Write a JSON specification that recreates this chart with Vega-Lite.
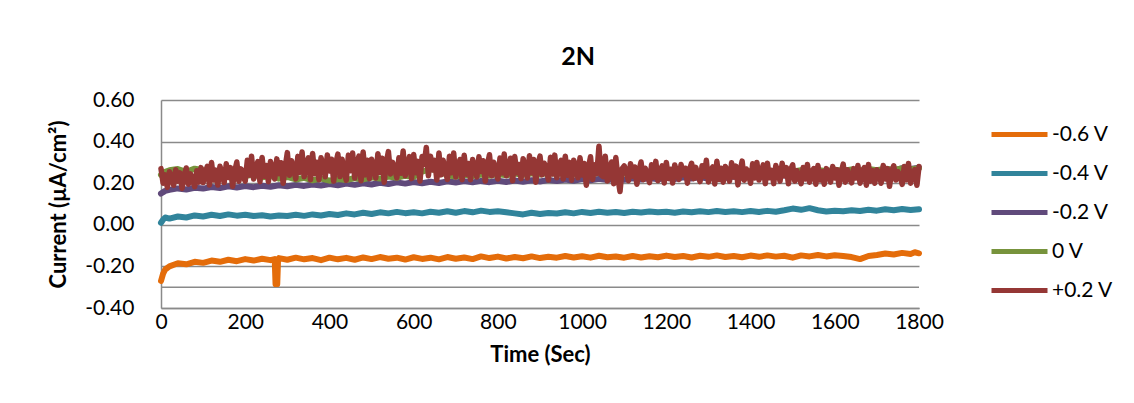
{
"$schema": "https://vega.github.io/schema/vega-lite/v6.json",
"width": 758, "height": 208,
"autosize": {"type": "none"},
"padding": {"left": 161, "top": 100, "right": 215, "bottom": 95},
"background": "white",
"title": {"text": "2N", "font": "Lato", "fontSize": 25, "fontWeight": "bold", "color": "#000", "dx": 38, "baseline": "alphabetic", "offset": -1},
"config": {
  "view": {"stroke": null},
  "axis": {"labelFont": "Lato", "labelFontSize": 21, "labelColor": "#000", "titleFont": "Lato", "titleFontSize": 22, "titleFontWeight": "bold", "titleColor": "#000", "domainColor": "#8a8a8a", "domainWidth": 1.5, "gridColor": "#8a8a8a", "gridWidth": 1.5, "ticks": false},
  "legend": {"orient": "none", "legendX": 848, "legendY": 24, "padding": 0, "title": null, "symbolType": "M-4,0H4", "symbolSize": 196, "symbolStrokeWidth": 5, "labelFont": "Lato", "labelFontSize": 21, "labelColor": "#000", "labelOffset": 22, "rowPadding": 17}
},
"datasets": {
"o": [{"t":0,"v":-0.27},{"t":5,"v":-0.235},{"t":10,"v":-0.215},{"t":20,"v":-0.2},{"t":40,"v":-0.185},{"t":60,"v":-0.19},{"t":80,"v":-0.178},{"t":100,"v":-0.183},{"t":120,"v":-0.172},{"t":140,"v":-0.178},{"t":160,"v":-0.168},{"t":180,"v":-0.175},{"t":200,"v":-0.165},{"t":220,"v":-0.172},{"t":240,"v":-0.163},{"t":260,"v":-0.17},{"t":270,"v":-0.165},{"t":272,"v":-0.285},{"t":276,"v":-0.285},{"t":278,"v":-0.165},{"t":280,"v":-0.16},{"t":300,"v":-0.168},{"t":320,"v":-0.158},{"t":340,"v":-0.166},{"t":360,"v":-0.16},{"t":380,"v":-0.17},{"t":400,"v":-0.158},{"t":420,"v":-0.166},{"t":440,"v":-0.159},{"t":460,"v":-0.168},{"t":480,"v":-0.157},{"t":500,"v":-0.165},{"t":520,"v":-0.155},{"t":540,"v":-0.163},{"t":560,"v":-0.158},{"t":580,"v":-0.167},{"t":600,"v":-0.156},{"t":620,"v":-0.164},{"t":640,"v":-0.158},{"t":660,"v":-0.166},{"t":680,"v":-0.155},{"t":700,"v":-0.163},{"t":720,"v":-0.157},{"t":740,"v":-0.165},{"t":760,"v":-0.152},{"t":780,"v":-0.16},{"t":800,"v":-0.153},{"t":820,"v":-0.162},{"t":840,"v":-0.155},{"t":860,"v":-0.161},{"t":880,"v":-0.152},{"t":900,"v":-0.16},{"t":920,"v":-0.154},{"t":940,"v":-0.158},{"t":960,"v":-0.15},{"t":980,"v":-0.157},{"t":1000,"v":-0.151},{"t":1020,"v":-0.158},{"t":1040,"v":-0.149},{"t":1060,"v":-0.156},{"t":1080,"v":-0.152},{"t":1100,"v":-0.158},{"t":1120,"v":-0.15},{"t":1140,"v":-0.157},{"t":1160,"v":-0.151},{"t":1180,"v":-0.156},{"t":1200,"v":-0.148},{"t":1220,"v":-0.155},{"t":1240,"v":-0.15},{"t":1260,"v":-0.157},{"t":1280,"v":-0.149},{"t":1300,"v":-0.154},{"t":1320,"v":-0.147},{"t":1340,"v":-0.155},{"t":1360,"v":-0.15},{"t":1380,"v":-0.156},{"t":1400,"v":-0.148},{"t":1420,"v":-0.154},{"t":1440,"v":-0.147},{"t":1460,"v":-0.153},{"t":1480,"v":-0.149},{"t":1500,"v":-0.158},{"t":1520,"v":-0.147},{"t":1540,"v":-0.152},{"t":1560,"v":-0.145},{"t":1580,"v":-0.152},{"t":1600,"v":-0.146},{"t":1620,"v":-0.15},{"t":1640,"v":-0.155},{"t":1660,"v":-0.165},{"t":1680,"v":-0.15},{"t":1700,"v":-0.145},{"t":1720,"v":-0.138},{"t":1740,"v":-0.143},{"t":1760,"v":-0.135},{"t":1780,"v":-0.14},{"t":1790,"v":-0.132},{"t":1800,"v":-0.137}],
"b": [{"t":0,"v":0.01},{"t":5,"v":0.025},{"t":10,"v":0.035},{"t":20,"v":0.03},{"t":40,"v":0.04},{"t":60,"v":0.035},{"t":80,"v":0.045},{"t":100,"v":0.04},{"t":120,"v":0.048},{"t":140,"v":0.042},{"t":160,"v":0.05},{"t":180,"v":0.044},{"t":200,"v":0.048},{"t":220,"v":0.042},{"t":240,"v":0.046},{"t":260,"v":0.04},{"t":280,"v":0.045},{"t":300,"v":0.042},{"t":320,"v":0.048},{"t":340,"v":0.043},{"t":360,"v":0.05},{"t":380,"v":0.045},{"t":400,"v":0.052},{"t":420,"v":0.047},{"t":440,"v":0.055},{"t":460,"v":0.05},{"t":480,"v":0.058},{"t":500,"v":0.052},{"t":520,"v":0.06},{"t":540,"v":0.055},{"t":560,"v":0.062},{"t":580,"v":0.056},{"t":600,"v":0.06},{"t":620,"v":0.055},{"t":640,"v":0.063},{"t":660,"v":0.058},{"t":680,"v":0.065},{"t":700,"v":0.058},{"t":720,"v":0.066},{"t":740,"v":0.06},{"t":760,"v":0.068},{"t":780,"v":0.062},{"t":800,"v":0.065},{"t":820,"v":0.06},{"t":840,"v":0.055},{"t":860,"v":0.05},{"t":880,"v":0.058},{"t":900,"v":0.052},{"t":920,"v":0.057},{"t":940,"v":0.054},{"t":960,"v":0.06},{"t":980,"v":0.055},{"t":1000,"v":0.062},{"t":1020,"v":0.057},{"t":1040,"v":0.063},{"t":1060,"v":0.058},{"t":1080,"v":0.062},{"t":1100,"v":0.057},{"t":1120,"v":0.063},{"t":1140,"v":0.059},{"t":1160,"v":0.064},{"t":1180,"v":0.06},{"t":1200,"v":0.063},{"t":1220,"v":0.058},{"t":1240,"v":0.064},{"t":1260,"v":0.06},{"t":1280,"v":0.065},{"t":1300,"v":0.061},{"t":1320,"v":0.066},{"t":1340,"v":0.062},{"t":1360,"v":0.065},{"t":1380,"v":0.061},{"t":1400,"v":0.066},{"t":1420,"v":0.062},{"t":1440,"v":0.067},{"t":1460,"v":0.063},{"t":1480,"v":0.07},{"t":1500,"v":0.078},{"t":1520,"v":0.072},{"t":1540,"v":0.08},{"t":1560,"v":0.07},{"t":1580,"v":0.064},{"t":1600,"v":0.068},{"t":1620,"v":0.065},{"t":1640,"v":0.07},{"t":1660,"v":0.066},{"t":1680,"v":0.072},{"t":1700,"v":0.068},{"t":1720,"v":0.075},{"t":1740,"v":0.07},{"t":1760,"v":0.076},{"t":1780,"v":0.071},{"t":1800,"v":0.075}],
"p": [{"t":0,"v":0.15},{"t":10,"v":0.163},{"t":20,"v":0.168},{"t":40,"v":0.175},{"t":60,"v":0.17},{"t":80,"v":0.178},{"t":100,"v":0.174},{"t":120,"v":0.182},{"t":140,"v":0.177},{"t":160,"v":0.185},{"t":180,"v":0.179},{"t":200,"v":0.186},{"t":220,"v":0.181},{"t":240,"v":0.188},{"t":260,"v":0.183},{"t":280,"v":0.19},{"t":300,"v":0.185},{"t":320,"v":0.192},{"t":340,"v":0.187},{"t":360,"v":0.194},{"t":380,"v":0.189},{"t":400,"v":0.196},{"t":420,"v":0.19},{"t":440,"v":0.198},{"t":460,"v":0.192},{"t":480,"v":0.2},{"t":500,"v":0.194},{"t":520,"v":0.202},{"t":540,"v":0.196},{"t":560,"v":0.204},{"t":580,"v":0.198},{"t":600,"v":0.206},{"t":620,"v":0.2},{"t":640,"v":0.207},{"t":660,"v":0.201},{"t":680,"v":0.209},{"t":700,"v":0.203},{"t":720,"v":0.21},{"t":740,"v":0.204},{"t":760,"v":0.211},{"t":780,"v":0.205},{"t":800,"v":0.212},{"t":820,"v":0.206},{"t":840,"v":0.213},{"t":860,"v":0.207},{"t":880,"v":0.214},{"t":900,"v":0.208},{"t":920,"v":0.216},{"t":940,"v":0.21},{"t":960,"v":0.218},{"t":980,"v":0.212},{"t":1000,"v":0.22},{"t":1020,"v":0.214},{"t":1040,"v":0.221},{"t":1060,"v":0.215},{"t":1080,"v":0.222},{"t":1100,"v":0.216},{"t":1120,"v":0.224},{"t":1140,"v":0.218},{"t":1160,"v":0.225},{"t":1180,"v":0.219},{"t":1200,"v":0.226},{"t":1220,"v":0.22},{"t":1240,"v":0.228},{"t":1260,"v":0.222},{"t":1280,"v":0.229},{"t":1300,"v":0.223},{"t":1320,"v":0.23},{"t":1340,"v":0.225},{"t":1360,"v":0.232},{"t":1380,"v":0.226},{"t":1400,"v":0.233},{"t":1420,"v":0.228},{"t":1440,"v":0.236},{"t":1460,"v":0.23},{"t":1480,"v":0.238},{"t":1500,"v":0.232},{"t":1520,"v":0.24},{"t":1540,"v":0.234},{"t":1560,"v":0.242},{"t":1580,"v":0.238},{"t":1600,"v":0.246},{"t":1620,"v":0.242},{"t":1640,"v":0.252},{"t":1660,"v":0.258},{"t":1680,"v":0.265},{"t":1700,"v":0.26},{"t":1720,"v":0.268},{"t":1740,"v":0.262},{"t":1760,"v":0.272},{"t":1780,"v":0.268},{"t":1800,"v":0.275}],
"g": [{"t":0,"v":0.24},{"t":10,"v":0.255},{"t":20,"v":0.262},{"t":40,"v":0.268},{"t":60,"v":0.255},{"t":80,"v":0.27},{"t":100,"v":0.262},{"t":120,"v":0.25},{"t":140,"v":0.258},{"t":160,"v":0.24},{"t":180,"v":0.248},{"t":200,"v":0.235},{"t":220,"v":0.242},{"t":240,"v":0.228},{"t":260,"v":0.235},{"t":280,"v":0.222},{"t":300,"v":0.23},{"t":320,"v":0.218},{"t":340,"v":0.226},{"t":360,"v":0.214},{"t":380,"v":0.222},{"t":400,"v":0.212},{"t":420,"v":0.22},{"t":440,"v":0.215},{"t":460,"v":0.225},{"t":480,"v":0.218},{"t":500,"v":0.228},{"t":520,"v":0.222},{"t":540,"v":0.232},{"t":560,"v":0.226},{"t":580,"v":0.236},{"t":600,"v":0.23},{"t":620,"v":0.255},{"t":640,"v":0.268},{"t":660,"v":0.26},{"t":680,"v":0.238},{"t":700,"v":0.232},{"t":720,"v":0.24},{"t":740,"v":0.234},{"t":760,"v":0.242},{"t":780,"v":0.236},{"t":800,"v":0.244},{"t":820,"v":0.238},{"t":840,"v":0.246},{"t":860,"v":0.24},{"t":880,"v":0.248},{"t":900,"v":0.242},{"t":920,"v":0.25},{"t":940,"v":0.244},{"t":960,"v":0.25},{"t":980,"v":0.243},{"t":1000,"v":0.248},{"t":1020,"v":0.242},{"t":1040,"v":0.25},{"t":1060,"v":0.244},{"t":1080,"v":0.252},{"t":1100,"v":0.246},{"t":1120,"v":0.253},{"t":1140,"v":0.247},{"t":1160,"v":0.254},{"t":1180,"v":0.248},{"t":1200,"v":0.255},{"t":1220,"v":0.249},{"t":1240,"v":0.256},{"t":1260,"v":0.25},{"t":1280,"v":0.257},{"t":1300,"v":0.251},{"t":1320,"v":0.258},{"t":1340,"v":0.252},{"t":1360,"v":0.258},{"t":1380,"v":0.253},{"t":1400,"v":0.259},{"t":1420,"v":0.254},{"t":1440,"v":0.26},{"t":1460,"v":0.255},{"t":1480,"v":0.262},{"t":1500,"v":0.256},{"t":1520,"v":0.263},{"t":1540,"v":0.257},{"t":1560,"v":0.264},{"t":1580,"v":0.258},{"t":1600,"v":0.265},{"t":1620,"v":0.26},{"t":1640,"v":0.266},{"t":1660,"v":0.261},{"t":1680,"v":0.268},{"t":1700,"v":0.262},{"t":1720,"v":0.27},{"t":1740,"v":0.264},{"t":1760,"v":0.271},{"t":1780,"v":0.266},{"t":1800,"v":0.272}],
"r": [{"t":0,"v":0.27},{"t":5,"v":0.2},{"t":10,"v":0.24},{"t":15,"v":0.18},{"t":20,"v":0.255},{"t":25,"v":0.23},{"t":30,"v":0.19},{"t":35,"v":0.265},{"t":40,"v":0.21},{"t":45,"v":0.25},{"t":50,"v":0.175},{"t":55,"v":0.235},{"t":60,"v":0.273},{"t":65,"v":0.195},{"t":70,"v":0.245},{"t":75,"v":0.215},{"t":80,"v":0.183},{"t":85,"v":0.26},{"t":90,"v":0.205},{"t":95,"v":0.275},
{"t":100,"v":0.203},{"t":105,"v":0.251},{"t":110,"v":0.281},{"t":115,"v":0.191},{"t":120,"v":0.299},{"t":125,"v":0.215},{"t":130,"v":0.263},{"t":135,"v":0.191},{"t":140,"v":0.281},{"t":145,"v":0.251},{"t":150,"v":0.203},{"t":155,"v":0.293},{"t":160,"v":0.227},{"t":165,"v":0.275},{"t":170,"v":0.185},{"t":175,"v":0.257},{"t":180,"v":0.302},{"t":185,"v":0.209},{"t":190,"v":0.269},{"t":195,"v":0.233},
{"t":200,"v":0.21},{"t":205,"v":0.31},{"t":210,"v":0.239},{"t":215,"v":0.33},{"t":220,"v":0.22},{"t":225,"v":0.272},{"t":230,"v":0.304},{"t":235,"v":0.207},{"t":240,"v":0.324},{"t":245,"v":0.233},{"t":250,"v":0.285},{"t":255,"v":0.207},{"t":260,"v":0.304},{"t":265,"v":0.272},{"t":270,"v":0.22},{"t":275,"v":0.317},{"t":280,"v":0.246},{"t":285,"v":0.298},{"t":290,"v":0.2},{"t":295,"v":0.278},
{"t":300,"v":0.347},{"t":305,"v":0.238},{"t":310,"v":0.308},{"t":315,"v":0.266},{"t":320,"v":0.221},{"t":325,"v":0.329},{"t":330,"v":0.252},{"t":335,"v":0.35},{"t":340,"v":0.231},{"t":345,"v":0.287},{"t":350,"v":0.322},{"t":355,"v":0.217},{"t":360,"v":0.343},{"t":365,"v":0.245},{"t":370,"v":0.301},{"t":375,"v":0.217},{"t":380,"v":0.322},{"t":385,"v":0.287},{"t":390,"v":0.231},{"t":395,"v":0.336},{"t":400,"v":0.259},{"t":405,"v":0.315},{"t":410,"v":0.21},{"t":415,"v":0.294},
{"t":420,"v":0.34},{"t":425,"v":0.232},{"t":430,"v":0.315},{"t":435,"v":0.258},{"t":440,"v":0.214},{"t":445,"v":0.335},{"t":450,"v":0.26},{"t":455,"v":0.345},{"t":460,"v":0.225},{"t":465,"v":0.295},{"t":470,"v":0.33},{"t":475,"v":0.212},{"t":480,"v":0.35},{"t":485,"v":0.24},{"t":490,"v":0.31},{"t":495,"v":0.222},{"t":500,"v":0.315},{"t":505,"v":0.28},{"t":510,"v":0.225},{"t":515,"v":0.342},{"t":520,"v":0.252},{"t":525,"v":0.32},{"t":530,"v":0.205},{"t":535,"v":0.3},
{"t":540,"v":0.352},{"t":545,"v":0.244},{"t":550,"v":0.3},{"t":555,"v":0.27},{"t":560,"v":0.226},{"t":565,"v":0.322},{"t":570,"v":0.248},{"t":575,"v":0.355},{"t":580,"v":0.236},{"t":585,"v":0.282},{"t":590,"v":0.328},{"t":595,"v":0.222},{"t":600,"v":0.338},{"t":605,"v":0.25},{"t":610,"v":0.305},{"t":615,"v":0.21},{"t":620,"v":0.328},{"t":625,"v":0.29},{"t":630,"v":0.372},{"t":635,"v":0.236},{"t":640,"v":0.33},{"t":645,"v":0.264},{"t":650,"v":0.31},{"t":655,"v":0.215},
{"t":660,"v":0.345},{"t":665,"v":0.24},{"t":670,"v":0.31},{"t":675,"v":0.262},{"t":680,"v":0.218},{"t":685,"v":0.33},{"t":690,"v":0.25},{"t":695,"v":0.345},
{"t":700,"v":0.23},{"t":705,"v":0.282},{"t":710,"v":0.314},{"t":715,"v":0.217},{"t":720,"v":0.334},{"t":725,"v":0.243},{"t":730,"v":0.295},{"t":735,"v":0.217},{"t":740,"v":0.314},{"t":745,"v":0.282},{"t":750,"v":0.23},{"t":755,"v":0.327},{"t":760,"v":0.256},{"t":765,"v":0.308},{"t":770,"v":0.21},{"t":775,"v":0.288},{"t":780,"v":0.337},{"t":785,"v":0.236},{"t":790,"v":0.301},{"t":795,"v":0.262},{"t":800,"v":0.22},{"t":805,"v":0.321},{"t":810,"v":0.249},{"t":815,"v":0.34},
{"t":820,"v":0.236},{"t":825,"v":0.275},{"t":830,"v":0.32},{"t":835,"v":0.212},{"t":840,"v":0.328},{"t":845,"v":0.25},{"t":850,"v":0.29},{"t":855,"v":0.222},{"t":860,"v":0.318},{"t":865,"v":0.276},{"t":870,"v":0.225},{"t":875,"v":0.332},{"t":880,"v":0.25},{"t":885,"v":0.314},{"t":890,"v":0.205},{"t":895,"v":0.292},{"t":900,"v":0.33},{"t":905,"v":0.24},{"t":910,"v":0.296},{"t":915,"v":0.268},{"t":920,"v":0.215},{"t":925,"v":0.325},{"t":930,"v":0.244},{"t":935,"v":0.335},
{"t":940,"v":0.226},{"t":945,"v":0.288},{"t":950,"v":0.31},{"t":955,"v":0.22},{"t":960,"v":0.33},{"t":965,"v":0.238},{"t":970,"v":0.3},{"t":975,"v":0.214},{"t":980,"v":0.31},{"t":985,"v":0.285},{"t":990,"v":0.226},{"t":995,"v":0.322},
{"t":1000,"v":0.239},{"t":1005,"v":0.295},{"t":1010,"v":0.19},{"t":1015,"v":0.274},{"t":1020,"v":0.327},{"t":1025,"v":0.218},{"t":1030,"v":0.288},{"t":1035,"v":0.246},{"t":1040,"v":0.378},{"t":1045,"v":0.24},{"t":1050,"v":0.232},{"t":1055,"v":0.33},{"t":1060,"v":0.211},{"t":1065,"v":0.267},{"t":1070,"v":0.302},{"t":1075,"v":0.197},{"t":1080,"v":0.323},{"t":1085,"v":0.225},{"t":1090,"v":0.16},{"t":1095,"v":0.27},
{"t":1100,"v":0.283},{"t":1105,"v":0.256},{"t":1110,"v":0.212},{"t":1115,"v":0.294},{"t":1120,"v":0.234},{"t":1125,"v":0.278},{"t":1130,"v":0.195},{"t":1135,"v":0.261},{"t":1140,"v":0.302},{"t":1145,"v":0.217},{"t":1150,"v":0.272},{"t":1155,"v":0.239},{"t":1160,"v":0.203},{"t":1165,"v":0.289},{"t":1170,"v":0.228},{"t":1175,"v":0.305},{"t":1180,"v":0.212},{"t":1185,"v":0.256},{"t":1190,"v":0.283},{"t":1195,"v":0.201},{"t":1200,"v":0.3},{"t":1205,"v":0.223},{"t":1210,"v":0.267},{"t":1215,"v":0.201},
{"t":1220,"v":0.288},{"t":1225,"v":0.25},{"t":1230,"v":0.218},{"t":1235,"v":0.29},{"t":1240,"v":0.24},{"t":1245,"v":0.272},{"t":1250,"v":0.2},{"t":1255,"v":0.266},{"t":1260,"v":0.296},{"t":1265,"v":0.222},{"t":1270,"v":0.276},{"t":1275,"v":0.234},{"t":1280,"v":0.208},{"t":1285,"v":0.284},{"t":1290,"v":0.232},{"t":1295,"v":0.31},{"t":1300,"v":0.206},{"t":1305,"v":0.26},{"t":1310,"v":0.278},{"t":1315,"v":0.196},{"t":1320,"v":0.305},{"t":1325,"v":0.218},{"t":1330,"v":0.272},{"t":1335,"v":0.205},
{"t":1340,"v":0.28},{"t":1345,"v":0.26},{"t":1350,"v":0.21},{"t":1355,"v":0.298},{"t":1360,"v":0.23},{"t":1365,"v":0.282},{"t":1370,"v":0.192},{"t":1375,"v":0.258},{"t":1380,"v":0.306},{"t":1385,"v":0.214},{"t":1390,"v":0.268},{"t":1395,"v":0.243},{"t":1400,"v":0.2},{"t":1405,"v":0.293},{"t":1410,"v":0.225},{"t":1415,"v":0.3},{"t":1420,"v":0.215},{"t":1425,"v":0.252},{"t":1430,"v":0.288},{"t":1435,"v":0.198},{"t":1440,"v":0.296},{"t":1445,"v":0.226},{"t":1450,"v":0.262},{"t":1455,"v":0.198},
{"t":1460,"v":0.285},{"t":1465,"v":0.254},{"t":1470,"v":0.21},{"t":1475,"v":0.296},{"t":1480,"v":0.236},{"t":1485,"v":0.275},{"t":1490,"v":0.197},{"t":1495,"v":0.264},
{"t":1500,"v":0.288},{"t":1505,"v":0.21},{"t":1510,"v":0.26},{"t":1515,"v":0.23},{"t":1520,"v":0.198},{"t":1525,"v":0.275},{"t":1530,"v":0.22},{"t":1535,"v":0.29},{"t":1540,"v":0.205},{"t":1545,"v":0.245},{"t":1550,"v":0.27},{"t":1555,"v":0.195},{"t":1560,"v":0.285},{"t":1565,"v":0.215},{"t":1570,"v":0.255},{"t":1575,"v":0.195},{"t":1580,"v":0.27},{"t":1585,"v":0.245},{"t":1590,"v":0.205},{"t":1595,"v":0.28},{"t":1600,"v":0.225},{"t":1605,"v":0.265},{"t":1610,"v":0.19},{"t":1615,"v":0.25},
{"t":1620,"v":0.292},{"t":1625,"v":0.205},{"t":1630,"v":0.265},{"t":1635,"v":0.225},{"t":1640,"v":0.202},{"t":1645,"v":0.27},{"t":1650,"v":0.225},{"t":1655,"v":0.285},{"t":1660,"v":0.2},{"t":1665,"v":0.25},{"t":1670,"v":0.275},{"t":1675,"v":0.19},{"t":1680,"v":0.29},{"t":1685,"v":0.21},{"t":1690,"v":0.26},{"t":1695,"v":0.2},{"t":1700,"v":0.265},{"t":1705,"v":0.25},{"t":1710,"v":0.2},{"t":1715,"v":0.285},{"t":1720,"v":0.22},{"t":1725,"v":0.27},{"t":1730,"v":0.185},{"t":1735,"v":0.255},
{"t":1740,"v":0.284},{"t":1745,"v":0.215},{"t":1750,"v":0.255},{"t":1755,"v":0.235},{"t":1760,"v":0.194},{"t":1765,"v":0.28},{"t":1770,"v":0.216},{"t":1775,"v":0.295},{"t":1780,"v":0.2},{"t":1785,"v":0.25},{"t":1790,"v":0.265},{"t":1795,"v":0.19},{"t":1800,"v":0.28}]
},
"layer": [
  {"data": {"values": [{}]}, "mark": {"type": "rule", "color": "#8a8a8a", "strokeWidth": 1.5}, "encoding": {"y": {"datum": -0.3, "type": "quantitative", "scale": {"domain": [-0.4, 0.6], "nice": false, "zero": false}}}},
  {"data": {"name": "o"}, "mark": {"type": "line", "strokeWidth": 6, "strokeCap": "round", "strokeJoin": "round"},
   "encoding": {
     "x": {"field": "t", "type": "quantitative", "scale": {"domain": [0, 1800], "nice": false, "zero": false}, "axis": {"values": [0,200,400,600,800,1000,1200,1400,1600,1800], "format": "d", "labelFlush": false, "labelOverlap": false, "title": "Time (Sec)", "labelPadding": 3, "titlePadding": 12, "grid": false}},
     "y": {"field": "v", "type": "quantitative", "scale": {"domain": [-0.4, 0.6], "nice": false, "zero": false}, "axis": {"values": [-0.4,-0.2,0,0.2,0.4,0.6], "title": "Current (µA/cm²)", "labelPadding": 27, "titlePadding": 14, "labelExpr": "datum.value < 0 ? '-' + format(-datum.value, '.2f') : format(datum.value, '.2f')", "grid": true}},
     "color": {"datum": "-0.6 V", "type": "nominal", "scale": {"domain": ["-0.6 V", "-0.4 V", "-0.2 V", "0 V", "+0.2 V"], "range": ["#E46C0A", "#31849B", "#604A7B", "#77933C", "#953735"]}}
   }},
  {"data": {"name": "b"}, "mark": {"type": "line", "strokeWidth": 6, "strokeCap": "round", "strokeJoin": "round"},
   "encoding": {"x": {"field": "t", "type": "quantitative"}, "y": {"field": "v", "type": "quantitative"}, "color": {"datum": "-0.4 V", "type": "nominal"}}},
  {"data": {"name": "p"}, "mark": {"type": "line", "strokeWidth": 6, "strokeCap": "round", "strokeJoin": "round"},
   "encoding": {"x": {"field": "t", "type": "quantitative"}, "y": {"field": "v", "type": "quantitative"}, "color": {"datum": "-0.2 V", "type": "nominal"}}},
  {"data": {"name": "g"}, "mark": {"type": "line", "strokeWidth": 6, "strokeCap": "round", "strokeJoin": "round"},
   "encoding": {"x": {"field": "t", "type": "quantitative"}, "y": {"field": "v", "type": "quantitative"}, "color": {"datum": "0 V", "type": "nominal"}}},
  {"data": {"name": "r"}, "mark": {"type": "line", "strokeWidth": 5.5, "strokeCap": "round", "strokeJoin": "round"},
   "encoding": {"x": {"field": "t", "type": "quantitative"}, "y": {"field": "v", "type": "quantitative"}, "color": {"datum": "+0.2 V", "type": "nominal"}}}
]
}
